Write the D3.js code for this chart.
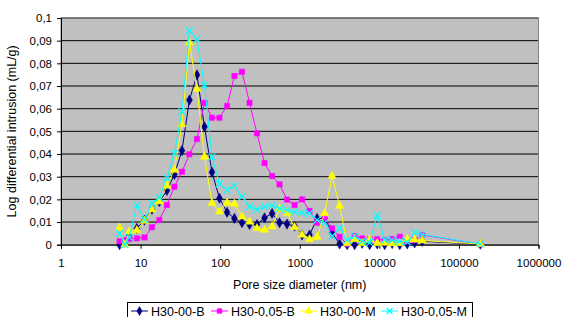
<!DOCTYPE html>
<html>
<head>
<meta charset="utf-8">
<script src="https://cdn.jsdelivr.net/npm/d3@7"></script>
<style>
body { margin: 0; background: #fff; }
svg { display: block; font-family: "Liberation Sans", Arial, sans-serif; }
</style>
</head>
<body>
<svg width="565" height="317"></svg>
<script>
// pore diameters (nm), shared by all four runs
const diameters = [5.45, 6.35, 7.22, 8.98, 11.2, 13.9, 17.2, 21.4, 26.6, 33.1,
    41.1, 51.1, 63.5, 78.9, 98, 122, 151, 188, 234, 290,
    361, 449, 557, 692, 861, 1069, 1328, 1652, 2052, 2549,
    3168, 3937, 4890, 6080, 7560, 9400, 11680, 14500, 18050, 22400,
    27800, 34600, 186000];

const h3000B = [0, 0.001, 0.0043, 0.0072, 0.0108, 0.0156, 0.019, 0.0239, 0.031, 0.0415,
    0.0638, 0.0749, 0.052, 0.032, 0.0205, 0.0143, 0.0116, 0.0097, 0.0089, 0.0089,
    0.0118, 0.0138, 0.0097, 0.0091, 0.0082, 0.0043, 0.0043, 0.0116, 0.0116, 0.0053,
    0.0003, 0, 0, 0.0006, 0, 0.0003, 0, 0.0005, 0, 0.0003,
    0.0008, 0.0015, 0.0002];

const h30005B = [0.0015, 0.002, 0.0025, 0.0028, 0.0032, 0.0077, 0.0109, 0.0175, 0.0256, 0.0322,
    0.0399, 0.0466, 0.0626, 0.056, 0.056, 0.0612, 0.0744, 0.0763, 0.0626, 0.0491,
    0.036, 0.0303, 0.0266, 0.0199, 0.0175, 0.02, 0.0149, 0.0097, 0.0116, 0.0072,
    0.0035, 0.0003, 0.0038, 0.0028, 0.0024, 0.0024, 0.002, 0.0025, 0.0035, 0.0015,
    0.002, 0.0043, 0.0002];

const h3000M = [0.0075, 0, 0.0058, 0.0063, 0.0105, 0.0155, 0.019, 0.026, 0.033, 0.0531,
    0.0891, 0.0687, 0.0388, 0.0183, 0.0146, 0.0185, 0.018, 0.0124, 0.0101, 0.0072,
    0.0065, 0.008, 0.0158, 0.014, 0.0077, 0.0043, 0.0024, 0.0033, 0.0138, 0.0303,
    0.0171, 0.0006, 0.0024, 0.0006, 0.0024, 0.0006, 0.0008, 0.0005, 0.0006, 0.0024,
    0.0022, 0.0018, 0.0003];

const h30005M = [0.005, 0, 0.0033, 0.0175, 0.011, 0.0182, 0.0208, 0.0295, 0.0403, 0.0587,
    0.0944, 0.0906, 0.0704, 0.0388, 0.0268, 0.0241, 0.026, 0.0212, 0.0168, 0.0155,
    0.0168, 0.0173, 0.016, 0.0152, 0.0145, 0.0141, 0.0138, 0.0109, 0.0097, 0.0038,
    0.0072, 0.0021, 0.0038, 0.0015, 0.0009, 0.013, 0.0021, 0.002, 0.0015, 0.0012,
    0.0053, 0.0045, 0.0003];

const seriesNames = ['H30-00-B', 'H30-0,05-B', 'H30-00-M', 'H30-0,05-M'];
const xTicks = [1, 10, 100, 1000, 10000, 100000, 1000000];
const yTicks = [0, 0.01, 0.02, 0.03, 0.04, 0.05, 0.06, 0.07, 0.08, 0.09, 0.1];

const series = [
    { name: seriesNames[0], values: h3000B, color: '#000080', symbol: d3.symbolDiamond, size: 30 },
    { name: seriesNames[1], values: h30005B, color: '#ff00ff', symbol: d3.symbolSquare, size: 28 },
    { name: seriesNames[2], values: h3000M, color: '#ffff00', symbol: d3.symbolTriangle, size: 30 },
    { name: seriesNames[3], values: h30005M, color: '#00ffff', symbol: d3.symbolX, size: 32 }
];

const svg = d3.select('svg');
const plotLeft = 61, plotTop = 18, plotRight = 538.5, plotBottom = 244.7;

const x = d3.scaleLog().domain([1, 1000000]).range([plotLeft, plotRight]);
const y = d3.scaleLinear().domain([0, 0.1]).range([plotBottom, plotTop]);

// plot area
svg.append('rect')
    .attr('x', plotLeft).attr('y', plotTop)
    .attr('width', plotRight - plotLeft).attr('height', plotBottom - plotTop)
    .attr('fill', '#c0c0c0');

svg.append('g')
    .selectAll('line')
    .data(yTicks)
    .enter().append('line')
    .attr('x1', plotLeft).attr('x2', plotRight)
    .attr('y1', d => y(d)).attr('y2', d => y(d))
    .attr('stroke', '#000').attr('stroke-width', 1);

svg.append('rect')
    .attr('x', plotLeft).attr('y', plotTop)
    .attr('width', plotRight - plotLeft).attr('height', plotBottom - plotTop)
    .attr('fill', 'none').attr('stroke', '#808080');

const fmt = d3.format('.2~f');

const yAxis = svg.append('g')
    .attr('transform', `translate(${plotLeft},0)`)
    .call(d3.axisLeft(y).tickValues(yTicks).tickSize(4).tickPadding(5)
        .tickFormat(d => fmt(d).replace('.', ',')));

const xAxis = svg.append('g')
    .attr('transform', `translate(0,${plotBottom})`)
    .call(d3.axisBottom(x).tickValues(xTicks).tickSize(4).tickPadding(10)
        .tickFormat(d3.format('d')));

[yAxis, xAxis].forEach(a => {
    a.select('.domain').attr('stroke', '#000');
    a.selectAll('.tick line').attr('stroke', '#000');
    a.selectAll('text').attr('font-size', 11.5).attr('fill', '#000')
        .attr('font-family', '"Liberation Sans", Arial, sans-serif');
});

// series
const line = d3.line()
    .x((d, i) => x(diameters[i]))
    .y(d => y(d));

series.forEach(s => {
    svg.append('path')
        .datum(s.values)
        .attr('d', line)
        .attr('fill', 'none')
        .attr('stroke', s.color)
        .attr('stroke-width', 1);

    const isX = s.symbol === d3.symbolX;
    svg.append('g')
        .selectAll('path')
        .data(s.values)
        .enter().append('path')
        .attr('transform', (d, i) => `translate(${x(diameters[i])},${y(d)})`)
        .attr('d', d3.symbol().type(s.symbol).size(s.size))
        .attr('fill', isX ? 'none' : s.color)
        .attr('stroke', s.color)
        .attr('stroke-width', isX ? 1.2 : 0.5);
});

// axis titles
svg.append('text')
    .attr('x', (plotLeft + plotRight) / 2)
    .attr('y', 289)
    .attr('text-anchor', 'middle')
    .attr('font-size', 12.5)
    .text('Pore size diameter (nm)');

svg.append('text')
    .attr('transform', `translate(16,${(plotTop + plotBottom) / 2}) rotate(-90)`)
    .attr('text-anchor', 'middle')
    .attr('font-size', 12.5)
    .text('Log differential intrusion (mL/g)');

// legend
svg.append('rect')
    .attr('x', 127.5).attr('y', 302.5)
    .attr('width', 345).attr('height', 20)
    .attr('fill', '#fff').attr('stroke', '#000');

const legendX = [131, 211, 300, 381];
series.forEach((s, i) => {
    const g = svg.append('g').attr('transform', `translate(${legendX[i]},311)`);
    g.append('line')
        .attr('x1', 0).attr('x2', 17)
        .attr('stroke', s.color).attr('stroke-width', 1);
    const isX = s.symbol === d3.symbolX;
    g.append('path')
        .attr('transform', 'translate(8.5,0)')
        .attr('d', d3.symbol().type(s.symbol).size(s.size * 0.8))
        .attr('fill', isX ? 'none' : s.color)
        .attr('stroke', s.color)
        .attr('stroke-width', isX ? 1.2 : 0.5);
    g.append('text')
        .attr('x', 20).attr('y', 4.5)
        .attr('font-size', 12.5)
        .text(s.name);
});
</script>
</body>
</html>
